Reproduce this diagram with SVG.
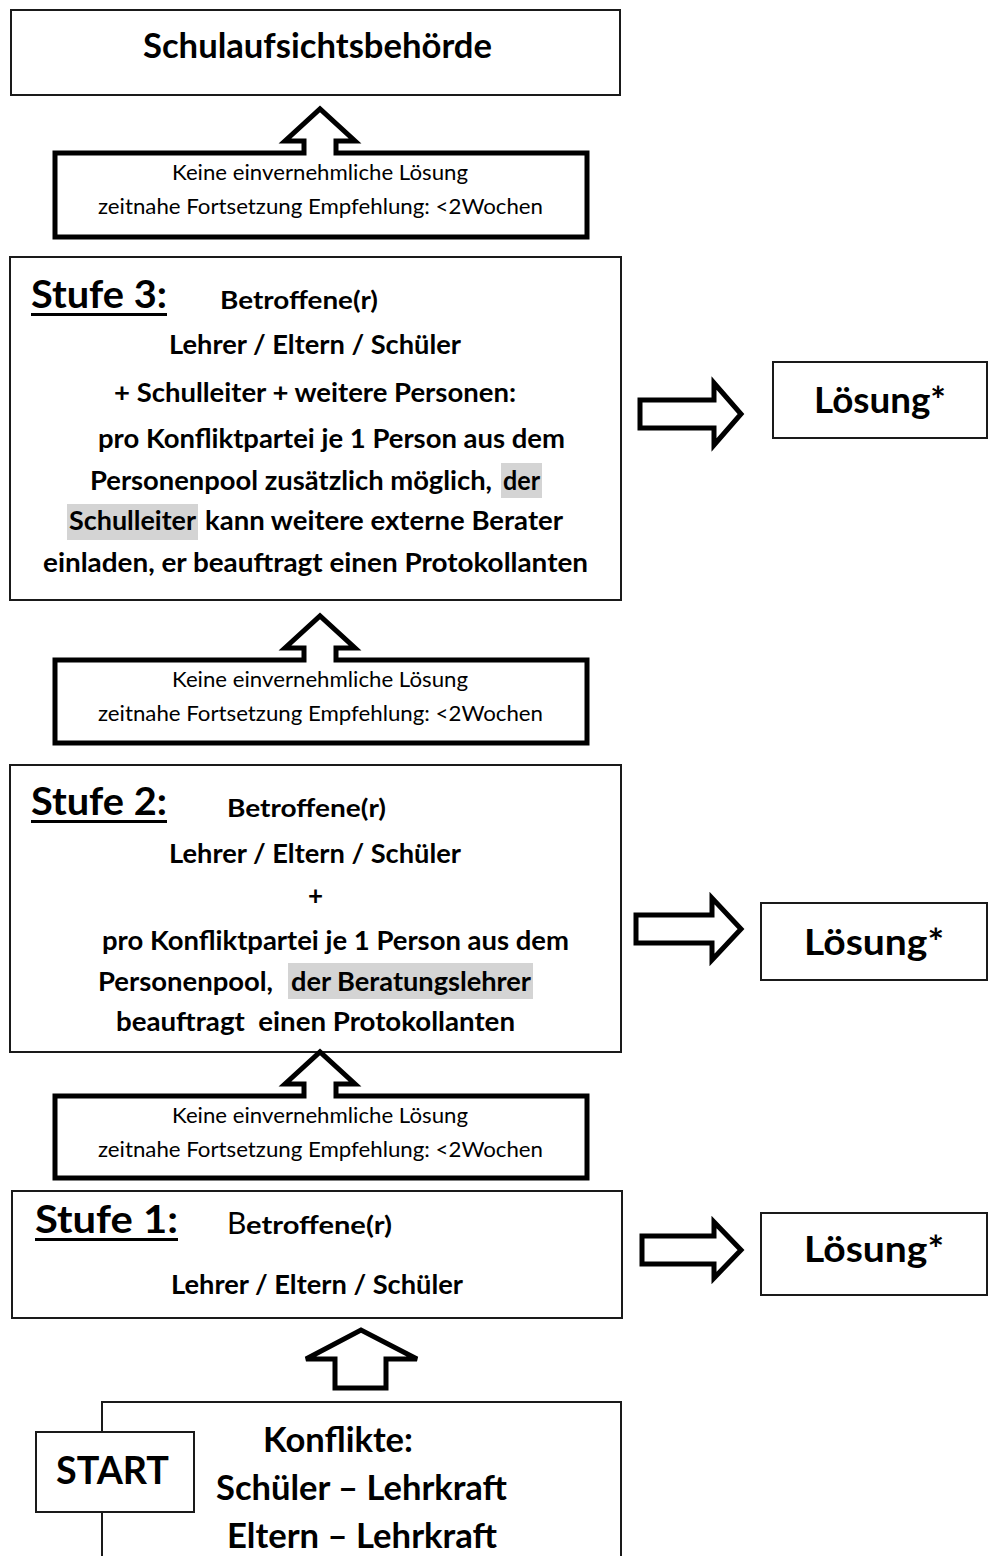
<svg xmlns="http://www.w3.org/2000/svg" width="992" height="1556" viewBox="0 0 992 1556">
<style>
  .box { fill: #fff; stroke: #1a1a1a; stroke-width: 2; }
  .thick { fill: #fff; stroke: #000; stroke-width: 5; stroke-linejoin: miter; }
  .arr { fill: #fff; stroke: #000; stroke-width: 5; stroke-linejoin: miter; }
  .t { font-family: Lato, "Liberation Sans", sans-serif; fill: #000; white-space: pre; }
  .b { font-weight: bold; }
  .n { font-weight: normal; }
  .hl { fill: #d4d4d4; }
  .ul { fill: #000; }
</style>
<rect width="992" height="1556" fill="#fff"/>

<g id="connectors">
  <path class="arr" d="M640,400 H714 V383 L741,414 L714,445 V428 H640 Z"/>
  <path class="arr" d="M636,915 H712 V898 L741,929 L712,960 V943 H636 Z"/>
  <path class="arr" d="M642,1236 H714 V1222 L741,1250 L714,1278 V1264 H642 Z"/>
  <path class="arr" stroke-width="4" d="M335,1388 V1359 H306 L361,1330 L417,1359 H386 V1388 Z"/>
</g>

<g id="node-schulaufsicht">
  <rect class="box" x="11" y="10" width="609" height="85"/>
  <text class="t b" x="143" y="58" font-size="34" textLength="349" lengthAdjust="spacingAndGlyphs">Schulaufsichtsbehörde</text>
</g>

<g id="node-keine-1">
  <path class="thick" d="M55,153 H304 V141 H285 L320,109 L355,141 H336 V153 H587 V237 H55 Z"/>
  <text class="t n" x="172" y="180" font-size="22" textLength="296" lengthAdjust="spacingAndGlyphs">Keine einvernehmliche Lösung</text>
  <text class="t n" x="98" y="214" font-size="22" textLength="445" lengthAdjust="spacingAndGlyphs">zeitnahe Fortsetzung Empfehlung: &lt;2Wochen</text>
</g>

<g id="node-stufe3">
  <rect class="box" x="10" y="257" width="611" height="343"/>
  <text class="t b" x="31" y="308" font-size="38" textLength="136" lengthAdjust="spacingAndGlyphs">Stufe 3:</text>
  <rect class="ul" x="31" y="313" width="136" height="3"/>
  <text class="t b" x="220" y="309" font-size="25" textLength="158" lengthAdjust="spacingAndGlyphs">Betroffene(r)</text>
  <text class="t b" x="169" y="354" font-size="26" textLength="292" lengthAdjust="spacingAndGlyphs">Lehrer / Eltern / Schüler</text>
  <text class="t b" x="114" y="402" font-size="26" textLength="402" lengthAdjust="spacingAndGlyphs">+ Schulleiter + weitere Personen:</text>
  <text class="t b" x="98" y="448" font-size="26" textLength="467" lengthAdjust="spacingAndGlyphs">pro Konfliktpartei je 1 Person aus dem</text>
  <rect class="hl" x="501" y="463" width="41" height="35"/>
  <text class="t b" x="90" y="490" font-size="26" textLength="402" lengthAdjust="spacingAndGlyphs">Personenpool zusätzlich möglich,</text>
  <text class="t b" x="503" y="490" font-size="26" textLength="37" lengthAdjust="spacingAndGlyphs">der</text>
  <rect class="hl" x="67" y="504" width="131" height="36"/>
  <text class="t b" x="69" y="530" font-size="26" textLength="127" lengthAdjust="spacingAndGlyphs">Schulleiter</text>
  <text class="t b" x="205" y="530" font-size="26" textLength="358" lengthAdjust="spacingAndGlyphs">kann weitere externe Berater</text>
  <text class="t b" x="43" y="572" font-size="26" textLength="545" lengthAdjust="spacingAndGlyphs">einladen, er beauftragt einen Protokollanten</text>
</g>

<g id="node-loesung-3">
  <rect class="box" x="773" y="362" width="214" height="76"/>
  <text class="t b" x="880" y="413" font-size="36" text-anchor="middle" textLength="132" lengthAdjust="spacingAndGlyphs">Lösung*</text>
</g>

<g id="node-keine-2">
  <path class="thick" d="M55,660 H304 V648 H285 L320,616 L355,648 H336 V660 H587 V743 H55 Z"/>
  <text class="t n" x="172" y="687" font-size="22" textLength="296" lengthAdjust="spacingAndGlyphs">Keine einvernehmliche Lösung</text>
  <text class="t n" x="98" y="721" font-size="22" textLength="445" lengthAdjust="spacingAndGlyphs">zeitnahe Fortsetzung Empfehlung: &lt;2Wochen</text>
</g>

<g id="node-stufe2">
  <rect class="box" x="10" y="765" width="611" height="287"/>
  <text class="t b" x="31" y="815" font-size="38" textLength="136" lengthAdjust="spacingAndGlyphs">Stufe 2:</text>
  <rect class="ul" x="31" y="820" width="136" height="3"/>
  <text class="t b" x="227" y="817" font-size="25" textLength="159" lengthAdjust="spacingAndGlyphs">Betroffene(r)</text>
  <text class="t b" x="169" y="863" font-size="26" textLength="292" lengthAdjust="spacingAndGlyphs">Lehrer / Eltern / Schüler</text>
  <text class="t b" x="308" y="905" font-size="26">+</text>
  <text class="t b" x="102" y="950" font-size="26" textLength="467" lengthAdjust="spacingAndGlyphs">pro Konfliktpartei je 1 Person aus dem</text>
  <text class="t b" x="98" y="991" font-size="26" textLength="175" lengthAdjust="spacingAndGlyphs">Personenpool,</text>
  <rect class="hl" x="288" y="963" width="245" height="36"/>
  <text class="t b" x="291" y="991" font-size="26" textLength="240" lengthAdjust="spacingAndGlyphs">der Beratungslehrer</text>
  <text class="t b" x="116" y="1031" font-size="26" textLength="399" lengthAdjust="spacingAndGlyphs">beauftragt  einen Protokollanten</text>
</g>

<g id="node-loesung-2">
  <rect class="box" x="761" y="903" width="226" height="77"/>
  <text class="t b" x="874" y="955" font-size="36" text-anchor="middle" textLength="140" lengthAdjust="spacingAndGlyphs">Lösung*</text>
</g>

<g id="node-keine-3">
  <path class="thick" d="M55,1096 H304 V1084 H285 L320,1052 L355,1084 H336 V1096 H587 V1178 H55 Z"/>
  <text class="t n" x="172" y="1123" font-size="22" textLength="296" lengthAdjust="spacingAndGlyphs">Keine einvernehmliche Lösung</text>
  <text class="t n" x="98" y="1157" font-size="22" textLength="445" lengthAdjust="spacingAndGlyphs">zeitnahe Fortsetzung Empfehlung: &lt;2Wochen</text>
</g>

<g id="node-stufe1">
  <rect class="box" x="12" y="1191" width="610" height="127"/>
  <text class="t b" x="35" y="1233" font-size="38" textLength="143" lengthAdjust="spacingAndGlyphs">Stufe 1:</text>
  <rect class="ul" x="35" y="1238" width="143" height="3"/>
  <text class="t n" x="227" y="1234" font-size="30">B</text>
  <text class="t b" x="246" y="1234" font-size="24" textLength="146" lengthAdjust="spacingAndGlyphs">etroffene(r)</text>
  <text class="t b" x="171" y="1294" font-size="26" textLength="292" lengthAdjust="spacingAndGlyphs">Lehrer / Eltern / Schüler</text>
</g>

<g id="node-loesung-1">
  <rect class="box" x="761" y="1213" width="226" height="82"/>
  <text class="t b" x="874" y="1262" font-size="36" text-anchor="middle" textLength="140" lengthAdjust="spacingAndGlyphs">Lösung*</text>
</g>

<g id="node-konflikte">
  <path d="M102,1556 V1402 H621 V1556" fill="#fff" stroke="#1a1a1a" stroke-width="2"/>
  <text class="t b" x="263" y="1452" font-size="34" textLength="150" lengthAdjust="spacingAndGlyphs">Konflikte:</text>
  <text class="t b" x="216" y="1500" font-size="34" textLength="291" lengthAdjust="spacingAndGlyphs">Schüler – Lehrkraft</text>
  <text class="t b" x="227" y="1548" font-size="34" textLength="270" lengthAdjust="spacingAndGlyphs">Eltern – Lehrkraft</text>
</g>

<g id="node-start">
  <rect class="box" x="36" y="1432" width="158" height="80"/>
  <text class="t b" x="56" y="1484" font-size="38" textLength="113" lengthAdjust="spacingAndGlyphs">START</text>
</g>
</svg>
